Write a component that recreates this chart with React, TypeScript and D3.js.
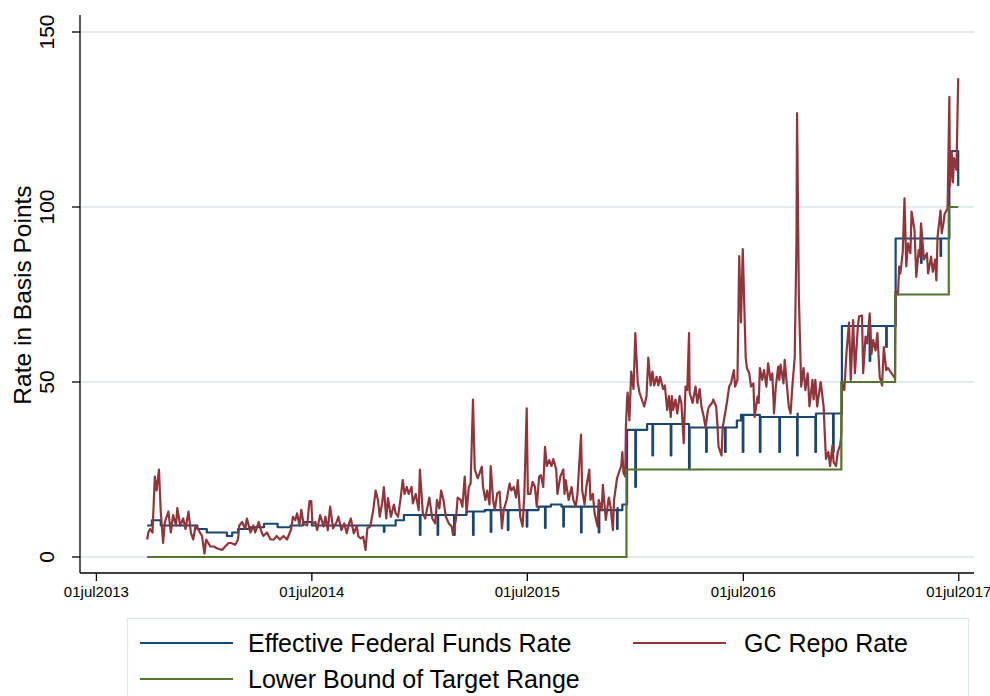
import React from "react";
import * as d3 from "d3";

// ---- data (basis points) ----
const lowerBound: [string, number][] = [
  ["2013-09-25", 0], ["2015-12-16", 25], ["2016-12-14", 50], ["2017-03-15", 75], ["2017-06-14", 100], ["2017-06-30", 100],
];

// EFFR: prevailing level changes, plus one-day month-end dips
const effrLevels: [string, number][] = [
  ["2013-09-25", 9], ["2013-10-03", 10.5], ["2013-10-18", 9], ["2013-12-19", 8], ["2014-01-04", 7],
  ["2014-02-07", 6], ["2014-02-16", 7], ["2014-02-26", 8], ["2014-03-19", 8.5], ["2014-04-11", 9.5],
  ["2014-05-04", 8.5], ["2014-05-26", 9], ["2014-06-16", 10], ["2014-07-01", 9], ["2014-11-20", 10.5],
  ["2014-12-04", 12], ["2015-03-20", 13], ["2015-04-20", 13.4], ["2015-07-20", 14.4], ["2015-08-10", 15],
  ["2015-08-28", 14.4], ["2015-10-01", 13.4], ["2015-12-01", 14], ["2015-12-09", 15], ["2015-12-17", 36.3],
  ["2016-01-20", 38], ["2016-03-01", 37], ["2016-06-20", 39], ["2016-06-27", 40.6], ["2016-07-01", 40],
  ["2016-10-01", 41], ["2016-12-15", 66], ["2017-03-16", 91], ["2017-06-15", 116],
];
const effrMonthEndDips: [string, number][] = [
  ["2014-10-31", 7.2], ["2014-12-31", 6.3], ["2015-01-30", 6.3], ["2015-02-27", 6.3], ["2015-03-31", 6.3],
  ["2015-04-30", 7.2], ["2015-05-29", 7.7], ["2015-06-30", 8.7], ["2015-07-31", 8.3], ["2015-08-31", 8.7],
  ["2015-09-30", 7], ["2015-10-30", 7], ["2015-11-30", 8], ["2015-12-31", 20], ["2016-01-29", 29],
  ["2016-02-29", 29], ["2016-03-31", 25.3], ["2016-04-29", 30], ["2016-05-31", 30], ["2016-06-30", 30],
  ["2016-07-29", 30], ["2016-08-31", 30], ["2016-09-30", 29], ["2016-10-31", 30], ["2016-11-30", 30],
  ["2017-01-31", 56], ["2017-02-28", 60], ["2017-04-28", 84], ["2017-05-31", 86], ["2017-06-30", 106],
];
const sampleEnd = "2017-06-30";

const gcRepo: [string, number][] = [
  ["2013-09-25", 5], ["2013-09-27", 7], ["2013-09-30", 8], ["2013-10-04", 7], ["2013-10-08", 23], ["2013-10-11", 19],
  ["2013-10-15", 25], ["2013-10-18", 13], ["2013-10-22", 4], ["2013-10-25", 10], ["2013-10-31", 13], ["2013-11-04", 7],
  ["2013-11-08", 12], ["2013-11-13", 9], ["2013-11-15", 14], ["2013-11-20", 9], ["2013-11-25", 11], ["2013-11-29", 8],
  ["2013-12-04", 13], ["2013-12-08", 7], ["2013-12-12", 5], ["2013-12-16", 9], ["2013-12-20", 8], ["2013-12-27", 6],
  ["2013-12-31", 1],
  ["2014-01-03", 5], ["2014-01-10", 3], ["2014-01-16", 3], ["2014-01-21", 2.5], ["2014-01-30", 2], ["2014-02-04", 3],
  ["2014-02-10", 4], ["2014-02-14", 4], ["2014-02-21", 3.5], ["2014-02-26", 5], ["2014-02-28", 9], ["2014-03-05", 10],
  ["2014-03-10", 8], ["2014-03-13", 11], ["2014-03-19", 7], ["2014-03-24", 9], ["2014-03-27", 7], ["2014-04-02", 10],
  ["2014-04-07", 7], ["2014-04-10", 6], ["2014-04-16", 7], ["2014-04-22", 5], ["2014-04-28", 5], ["2014-05-02", 6],
  ["2014-05-08", 5], ["2014-05-14", 6], ["2014-05-20", 5], ["2014-05-27", 8], ["2014-05-30", 11.5], ["2014-06-03", 10.5],
  ["2014-06-06", 12.5], ["2014-06-10", 9], ["2014-06-13", 13.5], ["2014-06-17", 9.5], ["2014-06-23", 9], ["2014-06-27", 16],
  ["2014-06-30", 16], ["2014-07-02", 9.5], ["2014-07-07", 10], ["2014-07-10", 7.7], ["2014-07-15", 12], ["2014-07-21", 8.7],
  ["2014-07-24", 11.5], ["2014-07-28", 7.7], ["2014-08-01", 14.4], ["2014-08-06", 8.2], ["2014-08-12", 10], ["2014-08-15", 11.5],
  ["2014-08-20", 7.7], ["2014-08-25", 9.6], ["2014-08-29", 6.8], ["2014-09-02", 9.6], ["2014-09-05", 11], ["2014-09-10", 6.8],
  ["2014-09-15", 8.7], ["2014-09-18", 5.8], ["2014-09-22", 5.3], ["2014-09-26", 5.8], ["2014-09-30", 2], ["2014-10-03", 8.2],
  ["2014-10-08", 8.7], ["2014-10-13", 13.4], ["2014-10-17", 19], ["2014-10-21", 16.3], ["2014-10-24", 11.5], ["2014-10-28", 15.3],
  ["2014-10-31", 20], ["2014-11-04", 11], ["2014-11-07", 16.8], ["2014-11-12", 11.5], ["2014-11-17", 15], ["2014-11-20", 12.5],
  ["2014-11-24", 11.5], ["2014-11-28", 16.3], ["2014-12-02", 22], ["2014-12-05", 18], ["2014-12-09", 20], ["2014-12-12", 18],
  ["2014-12-17", 20], ["2014-12-19", 15.3], ["2014-12-24", 18], ["2014-12-29", 13.4], ["2014-12-31", 25],
  ["2015-01-05", 12.5], ["2015-01-09", 11], ["2015-01-13", 14.4], ["2015-01-16", 17], ["2015-01-21", 11], ["2015-01-26", 9.6],
  ["2015-01-29", 16.3], ["2015-02-02", 13.9], ["2015-02-05", 19], ["2015-02-09", 16.3], ["2015-02-13", 11.5], ["2015-02-18", 9.6],
  ["2015-02-23", 8.7], ["2015-02-25", 6.3], ["2015-03-02", 10.6], ["2015-03-05", 17], ["2015-03-10", 16.3], ["2015-03-13", 14.4],
  ["2015-03-17", 23], ["2015-03-20", 12.5], ["2015-03-24", 20], ["2015-03-27", 21], ["2015-03-31", 45], ["2015-04-03", 25],
  ["2015-04-08", 22.5], ["2015-04-10", 23.4], ["2015-04-15", 25.8], ["2015-04-17", 20], ["2015-04-21", 16.3], ["2015-04-24", 19],
  ["2015-04-28", 15], ["2015-04-30", 26], ["2015-05-04", 16.3], ["2015-05-07", 13.4], ["2015-05-11", 18.2], ["2015-05-15", 18.7],
  ["2015-05-19", 8.2], ["2015-05-22", 13.4], ["2015-05-27", 16.3], ["2015-06-01", 21], ["2015-06-04", 19], ["2015-06-08", 20],
  ["2015-06-12", 17], ["2015-06-15", 22], ["2015-06-19", 11.5], ["2015-06-23", 8.7], ["2015-06-26", 18], ["2015-06-30", 42.5],
  ["2015-07-02", 18], ["2015-07-06", 18], ["2015-07-10", 21.5], ["2015-07-14", 20], ["2015-07-17", 14.4], ["2015-07-21", 23],
  ["2015-07-24", 23.4], ["2015-07-28", 20], ["2015-07-31", 31.5], ["2015-08-03", 26], ["2015-08-07", 27.7], ["2015-08-11", 26],
  ["2015-08-14", 28], ["2015-08-19", 25], ["2015-08-21", 18], ["2015-08-26", 23], ["2015-08-31", 25], ["2015-09-02", 18],
  ["2015-09-04", 22], ["2015-09-09", 16.3], ["2015-09-14", 20], ["2015-09-17", 16.3], ["2015-09-21", 14.4], ["2015-09-24", 18],
  ["2015-09-30", 35], ["2015-10-02", 19], ["2015-10-06", 15], ["2015-10-09", 20], ["2015-10-14", 25], ["2015-10-16", 16.3],
  ["2015-10-20", 18], ["2015-10-23", 12.5], ["2015-10-28", 8.7], ["2015-10-30", 16.3], ["2015-11-04", 13.4], ["2015-11-06", 20.6],
  ["2015-11-11", 10.6], ["2015-11-16", 17], ["2015-11-19", 14.4], ["2015-11-23", 7.7], ["2015-11-25", 16.3], ["2015-11-30", 22.5],
  ["2015-12-03", 24], ["2015-12-07", 26], ["2015-12-09", 30], ["2015-12-11", 24], ["2015-12-14", 23], ["2015-12-15", 37],
  ["2015-12-17", 45], ["2015-12-18", 47], ["2015-12-21", 39], ["2015-12-24", 53], ["2015-12-28", 48], ["2015-12-31", 64],
  ["2016-01-04", 50], ["2016-01-07", 47], ["2016-01-11", 45], ["2016-01-15", 43], ["2016-01-19", 46], ["2016-01-22", 57],
  ["2016-01-26", 49], ["2016-01-29", 53], ["2016-02-01", 49], ["2016-02-05", 51.5], ["2016-02-08", 49], ["2016-02-11", 51.5],
  ["2016-02-16", 48], ["2016-02-19", 49], ["2016-02-23", 42], ["2016-02-26", 46], ["2016-02-29", 40], ["2016-03-02", 46],
  ["2016-03-04", 42], ["2016-03-08", 45], ["2016-03-11", 41], ["2016-03-15", 46], ["2016-03-18", 44], ["2016-03-22", 32.5],
  ["2016-03-25", 48.7], ["2016-03-28", 47.7], ["2016-03-31", 64], ["2016-04-01", 47], ["2016-04-06", 44], ["2016-04-11", 48.7],
  ["2016-04-14", 44], ["2016-04-18", 48], ["2016-04-21", 43], ["2016-04-25", 40], ["2016-04-28", 37], ["2016-05-02", 42],
  ["2016-05-04", 43], ["2016-05-09", 44], ["2016-05-11", 45], ["2016-05-16", 43], ["2016-05-18", 38], ["2016-05-20", 31.5],
  ["2016-05-25", 29], ["2016-05-27", 37], ["2016-06-01", 42], ["2016-06-03", 44], ["2016-06-07", 48.7], ["2016-06-10", 49.6],
  ["2016-06-15", 53.4], ["2016-06-17", 48.7], ["2016-06-21", 50.6], ["2016-06-24", 86], ["2016-06-27", 67], ["2016-06-30", 88],
  ["2016-07-05", 57], ["2016-07-07", 54], ["2016-07-11", 52.5], ["2016-07-14", 48.7], ["2016-07-18", 49.6], ["2016-07-20", 40],
  ["2016-07-25", 45.8], ["2016-07-27", 44], ["2016-07-29", 54], ["2016-08-02", 50.6], ["2016-08-05", 53.4], ["2016-08-09", 48.7],
  ["2016-08-12", 55.3], ["2016-08-16", 50.6], ["2016-08-19", 52.5], ["2016-08-22", 41], ["2016-08-25", 48.7], ["2016-08-29", 54.4],
  ["2016-08-31", 50.6], ["2016-09-02", 55], ["2016-09-07", 49.6], ["2016-09-09", 56.3], ["2016-09-13", 48.7], ["2016-09-16", 42.9],
  ["2016-09-19", 41], ["2016-09-22", 48.7], ["2016-09-26", 57], ["2016-09-29", 90.6], ["2016-09-30", 126.8], ["2016-10-03", 75],
  ["2016-10-07", 48.7], ["2016-10-11", 54], ["2016-10-14", 47.7], ["2016-10-18", 52.5], ["2016-10-21", 43], ["2016-10-26", 50.6],
  ["2016-10-28", 45], ["2016-10-31", 50.6], ["2016-11-03", 43], ["2016-11-09", 50], ["2016-11-14", 43], ["2016-11-16", 35],
  ["2016-11-18", 28], ["2016-11-22", 30], ["2016-11-25", 26], ["2016-11-29", 32], ["2016-12-01", 27], ["2016-12-05", 26],
  ["2016-12-08", 30], ["2016-12-12", 32], ["2016-12-14", 35], ["2016-12-15", 50], ["2016-12-19", 47.7], ["2016-12-23", 59],
  ["2016-12-27", 67], ["2016-12-30", 50.6],
  ["2017-01-03", 67.7], ["2017-01-06", 52.5], ["2017-01-11", 65.8], ["2017-01-13", 68.7], ["2017-01-18", 69], ["2017-01-20", 52.5],
  ["2017-01-24", 63], ["2017-01-27", 61], ["2017-01-31", 69.6], ["2017-02-03", 58], ["2017-02-06", 62], ["2017-02-10", 59],
  ["2017-02-13", 64], ["2017-02-17", 51.5], ["2017-02-21", 49], ["2017-02-24", 60], ["2017-02-28", 53.4], ["2017-03-03", 54],
  ["2017-03-07", 53], ["2017-03-13", 51.5], ["2017-03-15", 51], ["2017-03-16", 76], ["2017-03-20", 75], ["2017-03-22", 83],
  ["2017-03-24", 81], ["2017-03-28", 87], ["2017-03-31", 102.5], ["2017-04-03", 83], ["2017-04-06", 89.6], ["2017-04-10", 86.8],
  ["2017-04-12", 98.7], ["2017-04-17", 93.4], ["2017-04-20", 80], ["2017-04-24", 87.7], ["2017-04-26", 85.8], ["2017-04-28", 95.3],
  ["2017-05-03", 85], ["2017-05-08", 86.8], ["2017-05-10", 81], ["2017-05-15", 85.8], ["2017-05-18", 81.5], ["2017-05-22", 85],
  ["2017-05-24", 79], ["2017-05-26", 91.5], ["2017-05-31", 99], ["2017-06-02", 92.5], ["2017-06-05", 95.3], ["2017-06-07", 98],
  ["2017-06-12", 99.6], ["2017-06-15", 131.5], ["2017-06-16", 106], ["2017-06-19", 116], ["2017-06-21", 107], ["2017-06-23", 114],
  ["2017-06-27", 110.6], ["2017-06-30", 136.8],
];

const xTickDates = ["2013-07-01", "2014-07-01", "2015-07-01", "2016-07-01", "2017-07-01"];
const yTicks = [0, 50, 100, 150];

const seriesNames = ["Effective Federal Funds Rate", "GC Repo Rate", "Lower Bound of Target Range"];
const seriesColors = ["#1a476f", "#90353b", "#55752f"];

// ---- layout ----
const W = 990;
const H = 696;
const plot = { left: 80, right: 974, top: 15, bottom: 573 };
const FONT = "'Liberation Sans', Arial, Helvetica, sans-serif";

const parse = d3.timeParse("%Y-%m-%d");
const fmtTick = d3.timeFormat("%d%b%Y");

type Pt = { date: Date; value: number };
const toPts = (rows: [string, number][]): Pt[] => rows.map(([d, v]) => ({ date: parse(d) as Date, value: v }));

// Month-end dips last a single day, then the prevailing level resumes.
function buildEffr(): Pt[] {
  const levels = toPts(effrLevels);
  const end = parse(sampleEnd) as Date;
  const levelAt = (d: Date) => {
    let v = levels[0].value;
    for (const l of levels) if (l.date <= d) v = l.value;
    return v;
  };
  const pts: Pt[] = [...levels];
  for (const dip of toPts(effrMonthEndDips)) {
    pts.push(dip);
    if (dip.date < end) {
      pts.push({ date: d3.timeDay.offset(dip.date, 1), value: levelAt(dip.date) });
    }
  }
  return pts.sort((a, b) => +a.date - +b.date);
}

export default function App() {
  const x = d3
    .scaleTime()
    .domain([parse("2013-07-01") as Date, parse("2017-07-01") as Date])
    .range([96.4, 958.8]);
  const y = d3.scaleLinear().domain([0, 150]).range([557, 32]);

  const effr = buildEffr();
  const repo = toPts(gcRepo);
  const lb = toPts(lowerBound);

  const stepLine = d3
    .line<Pt>()
    .x((d) => x(d.date))
    .y((d) => y(d.value))
    .curve(d3.curveStepAfter);
  const plainLine = d3
    .line<Pt>()
    .x((d) => x(d.date))
    .y((d) => y(d.value));

  const lineW = 2.2;

  const legendRows = [
    { i: 0, lx: 140, tx: 248, cy: 643 },
    { i: 1, lx: 633, tx: 744, cy: 643 },
    { i: 2, lx: 140, tx: 248, cy: 679 },
  ];

  return (
    <svg
      width={W}
      height={H}
      viewBox={`0 0 ${W} ${H}`}
      style={{ position: "absolute", left: 0, top: 0, background: "#fff" }}
      fontFamily={FONT}
    >
      <rect x={0} y={0} width={W} height={H} fill="#fff" />

      {/* horizontal grid */}
      {yTicks.map((t) => (
        <line key={`g${t}`} x1={plot.left} x2={plot.right} y1={y(t)} y2={y(t)} stroke="#e4ebef" strokeWidth={2} />
      ))}

      {/* series */}
      <path d={stepLine(effr) ?? ""} fill="none" stroke={seriesColors[0]} strokeWidth={lineW} strokeLinejoin="round" />
      <path d={plainLine(repo) ?? ""} fill="none" stroke={seriesColors[1]} strokeWidth={lineW} strokeLinejoin="round" />
      <path d={stepLine(lb) ?? ""} fill="none" stroke={seriesColors[2]} strokeWidth={lineW} />

      {/* y axis */}
      <line x1={plot.left} x2={plot.left} y1={plot.top} y2={plot.bottom} stroke="#000" strokeWidth={1.3} />
      {yTicks.map((t) => (
        <g key={`y${t}`}>
          <line x1={plot.left - 8} x2={plot.left} y1={y(t)} y2={y(t)} stroke="#000" strokeWidth={1.3} />
          <text
            transform={`translate(54,${y(t)}) rotate(-90)`}
            textAnchor="middle"
            fontSize={21}
            fill="#000"
          >
            {t}
          </text>
        </g>
      ))}
      <text transform={`translate(31,295) rotate(-90)`} textAnchor="middle" fontSize={24.5} fill="#000">
        Rate in Basis Points
      </text>

      {/* x axis */}
      <line x1={plot.left} x2={plot.right} y1={plot.bottom} y2={plot.bottom} stroke="#000" strokeWidth={1.3} />
      {xTickDates.map((d) => {
        const dt = parse(d) as Date;
        const px = x(dt);
        return (
          <g key={d}>
            <line x1={px} x2={px} y1={plot.bottom} y2={plot.bottom + 8} stroke="#000" strokeWidth={1.3} />
            <text x={px} y={597} textAnchor="middle" fontSize={15} fill="#000">
              {fmtTick(dt).toLowerCase()}
            </text>
          </g>
        );
      })}

      {/* legend */}
      <rect x={127.5} y={618.5} width={841} height={90} fill="#fff" stroke="#dfe6ea" strokeWidth={1.2} />
      {legendRows.map((r) => (
        <g key={seriesNames[r.i]}>
          <line x1={r.lx} x2={r.lx + 93} y1={r.cy} y2={r.cy} stroke={seriesColors[r.i]} strokeWidth={2} />
          <text x={r.tx} y={r.cy + 9} fontSize={25} fill="#000">
            {seriesNames[r.i]}
          </text>
        </g>
      ))}
    </svg>
  );
}
